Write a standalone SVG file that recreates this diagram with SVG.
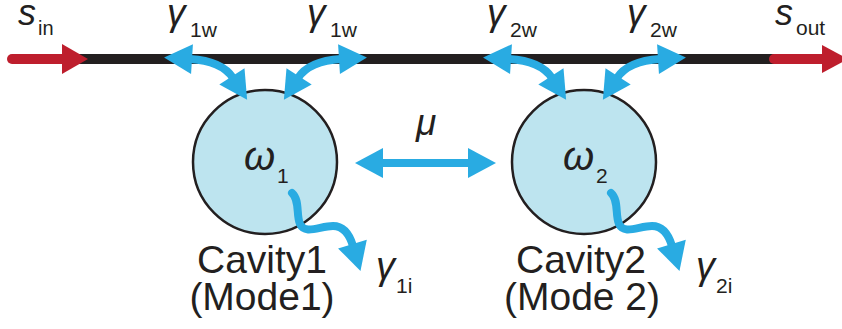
<svg xmlns="http://www.w3.org/2000/svg" width="842" height="329" viewBox="0 0 842 329">
<style>
.t{font-family:"Liberation Sans",Arial,sans-serif;fill:#231f20}
.it{font-style:italic}
.cav{fill:#bde4ef;stroke:#231f20;stroke-width:2.5}
.blue{fill:none;stroke:#29abe2;stroke-width:8}
.wavy{fill:none;stroke:#29abe2;stroke-width:8;stroke-linecap:round}
.red{stroke:#be1e2d;stroke-width:10;stroke-linecap:round}
</style>
<defs>
<marker id="bh" viewBox="0 -15 28 30" markerWidth="28" markerHeight="30" refX="2" refY="0" markerUnits="userSpaceOnUse" orient="auto-start-reverse" overflow="visible">
<path d="M0,-15 L28,0 L0,15 z" fill="#29abe2"/>
</marker>
</defs>
<g id="waveguide">
<line x1="62" y1="59" x2="812" y2="59" stroke="#231f20" stroke-width="10"/>
<line class="red" x1="12" y1="59" x2="64" y2="59"/>
<polygon points="62,44 88,59 62,74" fill="#be1e2d"/>
<line class="red" x1="774" y1="59" x2="824" y2="59"/>
<polygon points="822,45 848,59 822,73" fill="#be1e2d"/>
<text class="t it" x="18" y="25" font-size="36">s</text>
<text class="t" x="38" y="35" font-size="20">in</text>
<text class="t it" x="775" y="25" font-size="36">s</text>
<text class="t" x="796" y="35" font-size="21">out</text>
</g>
<g id="cavity1">
<circle class="cav" cx="265" cy="162" r="72"/>
<text class="t it" x="244" y="170" font-size="40">ω</text>
<text class="t" x="277" y="183" font-size="21">1</text>
<text class="t" x="262" y="273" font-size="39" text-anchor="middle">Cavity1</text>
<text class="t" x="262" y="310" font-size="39" text-anchor="middle">(Mode1)</text>
</g>
<g id="cavity2">
<circle class="cav" cx="584" cy="162" r="72"/>
<text class="t it" x="563" y="170" font-size="40">ω</text>
<text class="t" x="596" y="183" font-size="21">2</text>
<text class="t" x="581" y="273" font-size="39" text-anchor="middle">Cavity2</text>
<text class="t" x="582" y="310" font-size="39" text-anchor="middle">(Mode 2)</text>
</g>
<g id="connectors">
<path class="blue" d="M190 59 Q222 61 233 78" marker-start="url(#bh)" marker-end="url(#bh)"/>
<path class="blue" d="M341 59 Q309 61 298 78" marker-start="url(#bh)" marker-end="url(#bh)"/>
<path class="blue" d="M509 59 Q541 61 552 78" marker-start="url(#bh)" marker-end="url(#bh)"/>
<path class="blue" d="M660 59 Q628 61 617 78" marker-start="url(#bh)" marker-end="url(#bh)"/>
<path class="blue" d="M381 163 L470 163" marker-start="url(#bh)" marker-end="url(#bh)"/>
<path class="wavy" d="M292 193 C300 200 296 215 300 224 C305 235 320 226 333 226 C345 226 350 236 353 246" marker-end="url(#bh)"/>
<path class="wavy" d="M611 193 C619 200 615 215 619 224 C624 235 639 226 652 226 C664 226 669 236 672 246" marker-end="url(#bh)"/>
</g>
<g id="labels">
<text class="t it" x="167" y="25" font-size="37">γ</text>
<text class="t" x="190" y="37" font-size="21">1w</text>
<text class="t it" x="307" y="25" font-size="37">γ</text>
<text class="t" x="330" y="37" font-size="21">1w</text>
<text class="t it" x="487" y="25" font-size="37">γ</text>
<text class="t" x="510" y="37" font-size="21">2w</text>
<text class="t it" x="627" y="25" font-size="37">γ</text>
<text class="t" x="650" y="37" font-size="21">2w</text>
<text class="t it" x="416" y="135" font-size="37">μ</text>
<text class="t it" x="376" y="279" font-size="38">γ</text>
<text class="t" x="396" y="293" font-size="21">1i</text>
<text class="t it" x="696" y="279" font-size="38">γ</text>
<text class="t" x="716" y="293" font-size="21">2i</text>
</g>
</svg>
